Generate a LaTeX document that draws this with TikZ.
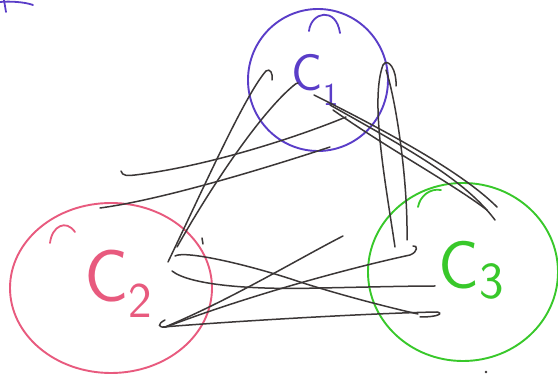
\documentclass[tikz,border=0pt]{standalone}
\usepackage{xcolor}
\usepackage{tikz}
\usetikzlibrary{shapes.geometric}
\definecolor{skpurple}{HTML}{5A3DC8}
\definecolor{skpink}{HTML}{E85A7E}
\definecolor{skgreen}{HTML}{38C82A}
\definecolor{skink}{HTML}{3B3737}

\begin{document}
\begin{tikzpicture}[x=1pt, y=-1pt,
  ring/.style={ellipse, line width=1.9pt, inner sep=0pt},
  ink/.style={draw=skink, line width=1.5pt, line cap=round},
  hat/.style={line width=1.8pt, line cap=round},
  lbl/.style={font=\sffamily, inner sep=0pt}]
  \useasboundingbox[fill=white] (0,0) rectangle (558,374);
  \node[ring, draw=skpurple, minimum width=140pt, minimum height=142pt] (c1) at (318,80) {};
  \node[ring, draw=skpink, minimum width=202pt, minimum height=170pt] (c2) at (111,288) {};
  \node[ring, draw=skgreen, minimum width=190pt, minimum height=178pt] (c3) at (463,272) {};
  \node[lbl, text=skpurple] (l1) at (315,80) {\fontsize{52}{52}\selectfont C\raisebox{-0.3em}{\fontsize{32}{32}\selectfont 1}};
  \node[lbl, text=skpink] (l2) at (118,284) {\fontsize{74}{74}\selectfont C\raisebox{-0.22em}{\fontsize{50}{50}\selectfont 2}};
  \node[lbl, text=skgreen] (l3) at (471,270) {\fontsize{68}{68}\selectfont C\raisebox{-0.15em}{\fontsize{52}{52}\selectfont 3}};
  \draw[hat, skpurple] (309,31) .. controls (311,12) and (336,6) .. (340,33);
  \draw[hat, skpink] (50,243) .. controls (52,226) and (66,219) .. (75,232);
  \draw[hat, skgreen] (418,207) .. controls (420,196) and (430,188) .. (441,190);
  \draw[hat, skpurple] (0,2) .. controls (10,1) and (25,2) .. (33,5);
  \draw[hat, skpurple] (4,0) -- (6,12);
  \coordinate (a0) at (168,262);
  \coordinate (a1) at (272,80);
  \coordinate (b0) at (177,247);
  \coordinate (b1) at (298,83);
  \coordinate (cc0) at (121,171);
  \coordinate (cc1) at (346,117);
  \coordinate (d0) at (100,208);
  \coordinate (d1) at (330,147);
  \coordinate (e0) at (314,95);
  \coordinate (e1) at (497,207);
  \coordinate (f0) at (330,105);
  \coordinate (f1) at (495,220);
  \coordinate (g0) at (333,110);
  \coordinate (g1) at (487,210);
  \coordinate (h0) at (395,247);
  \coordinate (h1) at (396,86);
  \coordinate (i0) at (407,240);
  \coordinate (i1) at (386,70);
  \coordinate (j0) at (175,256);
  \coordinate (j1) at (418,314);
  \coordinate (k0) at (172,271);
  \coordinate (k1) at (435,286);
  \coordinate (m0) at (165,327);
  \coordinate (m1) at (343,236);
  \coordinate (n0) at (163,327);
  \coordinate (n1) at (420,317);
  \coordinate (p0) at (165,320);
  \coordinate (p1) at (413,246);
  \draw[ink] (a0) .. controls (205,185) and (245,95) .. (266,71) .. controls (270,68) and (273,73) .. (a1);
  \draw[ink] (b0) .. controls (215,180) and (262,112) .. (293,86) .. controls (295,84) and (297,83) .. (b1);
  \draw[ink] (cc0) .. controls (122,176) and (128,176) .. (135,175) .. controls (210,166) and (300,136) .. (cc1);
  \draw[ink] (d0) .. controls (160,200) and (260,170) .. (d1);
  \draw[ink] (e0) .. controls (400,138) and (465,175) .. (e1);
  \draw[ink] (f0) .. controls (410,150) and (465,180) .. (f1);
  \draw[ink] (g0) .. controls (390,150) and (450,182) .. (g1);
  \draw[ink] (h0) .. controls (385,180) and (370,100) .. (383,65) .. controls (388,57) and (397,70) .. (h1);
  \draw[ink] (i0) .. controls (408,180) and (396,100) .. (i1);
  \draw[ink] (j0) .. controls (185,250) and (250,265) .. (300,282) .. controls (350,298) and (400,310) .. (j1);
  \draw[ink] (k0) .. controls (190,285) and (250,290) .. (320,288) .. controls (370,287) and (410,286) .. (k1);
  \draw[ink] (m0) .. controls (230,300) and (300,258) .. (m1);
  \draw[ink] (n0) .. controls (250,320) and (380,313) .. (437,312) .. controls (443,313) and (440,317) .. (n1);
  \draw[ink] (p0) .. controls (157,324) and (158,328) .. (166,327) .. controls (250,295) and (350,268) .. (410,255) .. controls (418,252) and (418,245) .. (p1);
  \draw[ink] (202,238) -- (203,244);
  \fill[skink] (486,372) circle (1.4pt);
\end{tikzpicture}
\end{document}
